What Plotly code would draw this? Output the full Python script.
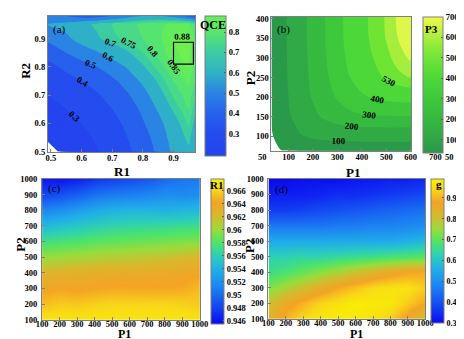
import plotly.graph_objects as go

# ---------------- panel (a): QCE over R1 / R2 (filled contours)
r1 = [0.49, 0.55, 0.60, 0.65, 0.70, 0.75, 0.80, 0.85, 0.90, 0.95, 0.97]
r2 = [0.50, 0.55, 0.60, 0.65, 0.70, 0.75, 0.80, 0.85, 0.90, 0.95, 0.98]
qce = [
    [0.15, 0.24, 0.27, 0.295, 0.34, 0.385, 0.44, 0.52, 0.62, 0.68, 0.63],
    [0.22, 0.25, 0.28, 0.31, 0.355, 0.40, 0.46, 0.54, 0.64, 0.72, 0.65],
    [0.24, 0.27, 0.30, 0.33, 0.37, 0.42, 0.49, 0.57, 0.66, 0.76, 0.68],
    [0.27, 0.30, 0.32, 0.355, 0.40, 0.45, 0.52, 0.61, 0.71, 0.80, 0.72],
    [0.30, 0.33, 0.355, 0.39, 0.43, 0.49, 0.56, 0.66, 0.76, 0.83, 0.76],
    [0.33, 0.37, 0.40, 0.43, 0.48, 0.54, 0.62, 0.71, 0.80, 0.86, 0.80],
    [0.37, 0.42, 0.46, 0.50, 0.55, 0.61, 0.69, 0.77, 0.85, 0.885, 0.83],
    [0.44, 0.50, 0.55, 0.59, 0.64, 0.69, 0.75, 0.82, 0.875, 0.89, 0.84],
    [0.52, 0.58, 0.64, 0.69, 0.73, 0.77, 0.80, 0.84, 0.88, 0.885, 0.84],
    [0.60, 0.63, 0.68, 0.71, 0.75, 0.78, 0.81, 0.84, 0.86, 0.85, 0.80],
    [0.58, 0.50, 0.45, 0.45, 0.50, 0.55, 0.60, 0.60, 0.55, 0.45, 0.40],
]
qce_levels = [0.2, 0.3, 0.4, 0.5, 0.6, 0.7, 0.75, 0.8, 0.85, 0.88]
qce_labeled = [0.3, 0.4, 0.5, 0.6, 0.7, 0.75, 0.8, 0.85, 0.88]
qce_ticks = [0.3, 0.4, 0.5, 0.6, 0.7, 0.8]
box_r1 = [0.90, 0.965]
box_r2 = [0.81, 0.887]

# ---------------- panel (b): P3 over P1 / P2 (filled contours)
p1_b = [30, 60, 100, 150, 200, 250, 300, 350, 400, 450, 500, 550, 600]
p2_b = [63, 100, 150, 200, 250, 300, 350, 405]
p3 = [
    [3, 15, 30, 42, 50, 55, 58, 60, 62, 63, 64, 65, 66],
    [14, 38, 68, 95, 110, 117, 120, 121, 122, 122, 122, 122, 122],
    [25, 50, 90, 135, 178, 215, 248, 272, 286, 292, 294, 295, 296],
    [28, 57, 100, 155, 208, 260, 310, 352, 385, 410, 425, 434, 440],
    [29, 60, 105, 162, 220, 282, 342, 398, 448, 495, 545, 595, 625],
    [30, 61, 107, 166, 227, 293, 360, 420, 478, 535, 592, 660, 715],
    [30, 62, 109, 169, 231, 299, 368, 432, 494, 557, 625, 705, 760],
    [30, 62, 110, 170, 232, 300, 370, 435, 498, 563, 632, 720, 780],
]
p3_levels = [20, 100, 200, 300, 400, 530, 620, 700]
p3_ticks = [100, 200, 300, 400, 500, 600, 700]

# ---------------- panels (c) and (d): R1 and g over P1 / P2
p_grid = [100, 200, 300, 400, 500, 600, 700, 800, 900, 1000]
r1_map = [
    [0.9670, 0.9670, 0.9670, 0.9670, 0.9670, 0.9670, 0.9670, 0.9670, 0.9670, 0.9668],
    [0.9652, 0.9658, 0.9656, 0.9660, 0.9662, 0.9662, 0.9662, 0.9662, 0.9660, 0.9656],
    [0.9640, 0.9642, 0.9640, 0.9642, 0.9644, 0.9644, 0.9643, 0.9643, 0.9645, 0.9652],
    [0.9625, 0.9628, 0.9630, 0.9632, 0.9633, 0.9634, 0.9635, 0.9636, 0.9638, 0.9640],
    [0.9600, 0.9602, 0.9605, 0.9608, 0.9610, 0.9612, 0.9614, 0.9616, 0.9620, 0.9625],
    [0.9575, 0.9578, 0.9580, 0.9584, 0.9586, 0.9588, 0.9590, 0.9592, 0.9594, 0.9597],
    [0.9545, 0.9550, 0.9555, 0.9560, 0.9564, 0.9566, 0.9567, 0.9568, 0.9570, 0.9572],
    [0.9515, 0.9520, 0.9528, 0.9535, 0.9540, 0.9542, 0.9542, 0.9540, 0.9543, 0.9545],
    [0.9482, 0.9488, 0.9495, 0.9505, 0.9510, 0.9512, 0.9515, 0.9520, 0.9518, 0.9520],
    [0.9462, 0.9460, 0.9465, 0.9475, 0.9480, 0.9485, 0.9490, 0.9500, 0.9505, 0.9508],
]
r1_ticks = [0.946, 0.948, 0.95, 0.952, 0.954, 0.956, 0.958, 0.96, 0.962, 0.964, 0.966]
r1_ticktext = ["0.946", "0.948", "0.95", "0.952", "0.954", "0.956", "0.958", "0.96", "0.962", "0.964", "0.966"]
g_map = [
    [0.84, 0.90, 0.95, 0.97, 0.98, 0.97, 0.96, 0.93, 0.86, 0.78],
    [0.80, 0.86, 0.90, 0.94, 0.96, 0.98, 0.97, 0.97, 0.93, 0.88],
    [0.73, 0.77, 0.81, 0.85, 0.89, 0.92, 0.95, 0.96, 0.96, 0.93],
    [0.66, 0.68, 0.71, 0.74, 0.77, 0.80, 0.83, 0.86, 0.88, 0.89],
    [0.63, 0.63, 0.64, 0.64, 0.65, 0.66, 0.67, 0.68, 0.69, 0.70],
    [0.55, 0.55, 0.55, 0.55, 0.55, 0.55, 0.55, 0.55, 0.56, 0.58],
    [0.46, 0.46, 0.46, 0.46, 0.47, 0.47, 0.48, 0.48, 0.49, 0.50],
    [0.37, 0.37, 0.38, 0.39, 0.40, 0.41, 0.42, 0.43, 0.44, 0.45],
    [0.33, 0.33, 0.33, 0.34, 0.35, 0.35, 0.36, 0.37, 0.38, 0.39],
    [0.30, 0.30, 0.31, 0.31, 0.31, 0.32, 0.32, 0.33, 0.33, 0.34],
]
g_ticks = [0.3, 0.4, 0.5, 0.6, 0.7, 0.8, 0.9]
p_ticks = [100, 200, 300, 400, 500, 600, 700, 800, 900, 1000]

# ---------------- colours
qce_band_colors = ['#2344ee', '#244cee', '#2660ec', '#2a84e4', '#2fb0c8',
                   '#3ccca2', '#48da88', '#56e470', '#62ec5c', '#70f050']
qce_cbar = [[0, '#2344ee'], [0.16, '#244cee'], [0.3, '#2660ec'], [0.45, '#2a84e4'],
            [0.59, '#2fb0c8'], [0.74, '#3ccca2'], [0.88, '#56e470'], [1, '#66ee58']]
p3_band_colors = ['#2a9a4a', '#30aa45', '#36ba40', '#3ec83c', '#4cd838',
                  '#6ee434', '#a6ee3c', '#def748']
p3_cbar = [[0, '#2a9648'], [0.1, '#30a646'], [0.25, '#36b840'], [0.4, '#3ec83c'],
           [0.55, '#4cd838'], [0.75, '#80e838'], [0.88, '#b8f040'], [1, '#f2fa48']]
jetlike = [[0, '#0a0af0'], [0.12, '#1446f2'], [0.25, '#1c80f2'], [0.37, '#20aee8'],
           [0.47, '#2ccfb8'], [0.56, '#4ee468'], [0.65, '#98dc3c'], [0.75, '#d8b82c'],
           [0.84, '#f4a424'], [0.93, '#f8d818'], [1, '#f8f400']]

FONT = "Liberation Serif"
W, H = 464, 339


def step_scale(levels, colors, start, end, size):
    # piecewise-constant colorscale so that fine uniform contour bands take
    # the colour of the coarse (non-uniform) band they lie in
    lo, hi = start - size / 2, end + size / 2
    scale = [[0, 'white']]
    prev = 'white'
    for lev, col in zip(levels, colors):
        p = (lev - lo) / (hi - lo)
        scale += [[p, prev], [p, col]]
        prev = col
    scale.append([1, prev])
    return scale


def cbar(x_px, top_px, len_px, thick, tickvals, ticktext=None, fsize=8.5):
    d = dict(x=x_px / W, xanchor='left', y=1 - top_px / H, yanchor='top',
             len=len_px, lenmode='pixels', thickness=thick, thicknessmode='pixels',
             xpad=0, ypad=0, outlinecolor='#7f7f7f', outlinewidth=1,
             ticks='inside', ticklen=2, tickcolor='#555',
             tickvals=tickvals, ticklabeloverflow='allow',
             tickfont=dict(family=FONT, size=fsize, color='black', weight='bold'))
    if ticktext:
        d['ticktext'] = ticktext
    return d


labfont = dict(family=FONT, size=9, color='black', weight='bold')

fig = go.Figure()

# (a) colourbar carrier, fill, labels
fig.add_trace(go.Heatmap(x=r1, y=r2, z=qce, xaxis='x', yaxis='y', opacity=0,
                         colorscale=qce_cbar, zmin=0.19, zmax=0.88, hoverinfo='skip',
                         colorbar=cbar(197, 3, 140, 21, qce_ticks)))
fig.add_trace(go.Contour(x=r1, y=r2, z=qce, xaxis='x', yaxis='y', autocontour=False,
                         contours=dict(start=0.1, end=0.95, size=0.01, coloring='fill',
                                       showlines=False),
                         colorscale=step_scale(qce_levels, qce_band_colors, 0.1, 0.95, 0.01),
                         line=dict(width=0), showscale=False, hoverinfo='skip'))
for lev in qce_labeled:
    fig.add_trace(go.Contour(x=r1, y=r2, z=qce, xaxis='x', yaxis='y', autocontour=False,
                             contours=dict(start=lev, end=lev, size=1, coloring='none',
                                           showlines=False, showlabels=True,
                                           labelfont=labfont),
                             line=dict(width=0), showscale=False, hoverinfo='skip'))

# (b)
fig.add_trace(go.Heatmap(x=p1_b, y=p2_b, z=p3, xaxis='x2', yaxis='y2', opacity=0,
                         colorscale=p3_cbar, zmin=37, zmax=700, hoverinfo='skip',
                         colorbar=cbar(423, 4, 136, 20, p3_ticks)))
fig.add_trace(go.Contour(x=p1_b, y=p2_b, z=p3, xaxis='x2', yaxis='y2', autocontour=False,
                         contours=dict(start=0, end=800, size=10, coloring='fill',
                                       showlines=False),
                         colorscale=step_scale(p3_levels, p3_band_colors, 0, 800, 10),
                         line=dict(width=0), showscale=False, hoverinfo='skip'))
for lev in p3_levels:
    fig.add_trace(go.Contour(x=p1_b, y=p2_b, z=p3, xaxis='x2', yaxis='y2', autocontour=False,
                             contours=dict(start=lev, end=lev, size=1, coloring='none',
                                           showlines=False, showlabels=True,
                                           labelfont=labfont),
                             line=dict(width=0), showscale=False, hoverinfo='skip'))

# (c) and (d)
fig.add_trace(go.Heatmap(x=p_grid, y=p_grid, z=r1_map, xaxis='x3', yaxis='y3',
                         zsmooth='best', colorscale=jetlike, zmin=0.9455, zmax=0.9678,
                         hoverinfo='skip',
                         colorbar=cbar(204, 171, 145, 13, r1_ticks, r1_ticktext)))
fig.add_trace(go.Heatmap(x=p_grid, y=p_grid, z=g_map, xaxis='x4', yaxis='y4',
                         zsmooth='best', colorscale=jetlike, zmin=0.3, zmax=0.991,
                         hoverinfo='skip',
                         colorbar=cbar(431, 171, 144, 13, g_ticks, fsize=8)))

axis_style = dict(showline=True, mirror=True, linecolor='#7f7f7f', linewidth=1,
                  ticks='inside', ticklen=3, tickcolor='#7f7f7f', showgrid=False,
                  zeroline=False, tickangle=0, ticklabeloverflow='allow',
                  tickfont=dict(family=FONT, size=8.5, color='black', weight='bold'))

fig.update_layout(
    width=W, height=H, margin=dict(l=0, r=0, t=0, b=0),
    paper_bgcolor='white', plot_bgcolor='white', showlegend=False,
    xaxis=dict(domain=[35 / W, 187 / W], range=[0.49, 0.97], anchor='y',
               tickvals=[0.5, 0.6, 0.7, 0.8, 0.9], ticklabelstandoff=-2, **axis_style),
    yaxis=dict(domain=[1 - 143 / H, 1 - 3 / H], range=[0.5, 0.98], anchor='x',
               tickvals=[0.5, 0.6, 0.7, 0.8, 0.9], **axis_style),
    xaxis2=dict(domain=[266 / W, 410 / W], range=[30, 600], anchor='y2',
                tickvals=[100, 200, 300, 400, 500, 600], ticklabelstandoff=-2, **axis_style),
    yaxis2=dict(domain=[1 - 142 / H, 1 - 4 / H], range=[63, 405], anchor='x2',
                tickvals=[100, 150, 200, 250, 300, 350, 400], **axis_style),
    xaxis3=dict(domain=[29 / W, 192 / W], range=[100, 1000], anchor='y3',
                tickvals=p_ticks, ticklabelstandoff=-4, **axis_style),
    yaxis3=dict(domain=[1 - 316 / H, 1 - 171 / H], range=[100, 1000], anchor='x3',
                tickvals=p_ticks, ticklabelstandoff=2, **axis_style),
    xaxis4=dict(domain=[263 / W, 425 / W], range=[100, 1000], anchor='y4',
                tickvals=p_ticks, ticklabelstandoff=-4, **axis_style),
    yaxis4=dict(domain=[1 - 315 / H, 1 - 171 / H], range=[100, 1000], anchor='x4',
                tickvals=p_ticks, ticklabelstandoff=2, **axis_style),
)

fig.add_shape(type='rect', xref='x', yref='y', x0=box_r1[0], x1=box_r1[1],
              y0=box_r2[0], y1=box_r2[1], line=dict(color='black', width=1.2))


def note(text, x_px, y_px, size, bold=True, angle=0, xanchor='center'):
    fig.add_annotation(text=text, x=x_px / W, y=1 - y_px / H, xref='paper', yref='paper',
                       showarrow=False, textangle=angle, xanchor=xanchor, yanchor='middle',
                       borderpad=0,
                       font=dict(family=FONT, size=size, color='black',
                                 weight='bold' if bold else 'normal'))


# axis titles
note("R1", 112, 163, 13)
note("R2", 12, 60, 13, angle=-90)
note("P1", 350, 164, 13)
note("P2", 244, 67, 13, angle=-90)
note("P1", 114, 331, 12)
note("P2", 7, 239, 13, angle=-90)
note("P1", 354, 331, 12)
note("P2", 244, 240, 13, angle=-90)
# colourbar titles
note("QCE", 206, 12, 12)
note("P3", 431, 16, 11)
note("R1", 209, 177, 11)
note("g", 439, 176, 11)
# panel tags
note("(a)", 47, 17, 11, bold=False)
note("(b)", 279, 17, 11, bold=False)
note("(c)", 42, 181, 11, bold=False)
note("(d)", 276, 182, 11, bold=False)
# stray tick labels of the original
note("50", 257, 148, 8.5)
note("700", 436, 148, 8.5)
note("50", 444, 148, 8.5, xanchor='left')

fig.write_html("out.html")
